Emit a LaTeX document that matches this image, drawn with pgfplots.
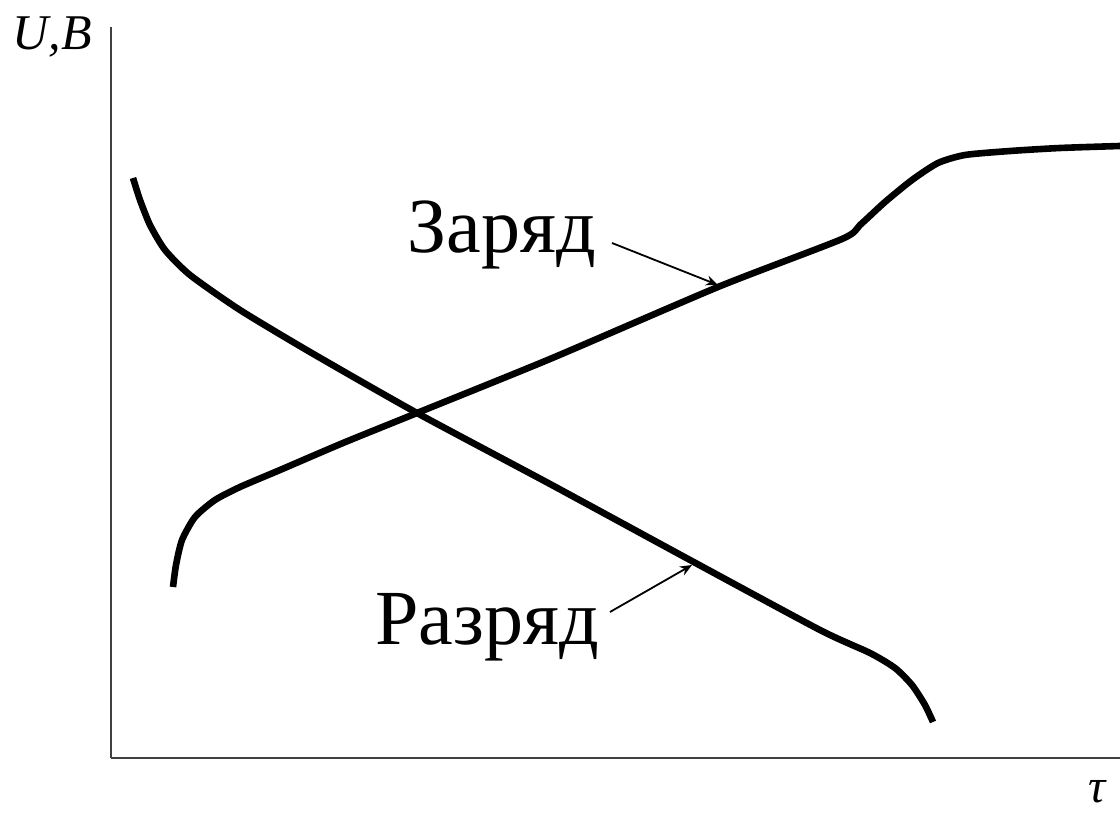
\documentclass[border=0pt]{standalone}
\usepackage{fontspec}
\setmainfont{Liberation Serif}
\usepackage{pgfplots}
\pgfplotsset{compat=1.18}
\usetikzlibrary{arrows.meta}
\begin{document}
\begin{tikzpicture}
\path[use as bounding box] (-55.5pt,-28pt) rectangle (504.5pt,379pt);
\begin{axis}[
  scale only axis,
  width=504.5pt, height=365.5pt,
  xmin=111, xmax=1120, ymin=56, ymax=787,
  axis x line=bottom, axis y line=left,
  axis line style={-, line width=1.3pt, color=black!75},
  xtick=\empty, ytick=\empty,
  clip=false,
]
% Charge (Заряд)
\addplot[smooth, tension=0.4, line width=3.3pt, black] coordinates {
(173,227) (176,249) (182,274) (195,297) (215,314) (240,327) (280,344)
(343,371) (417,401) (550,455) (718,527) (842,575) (860,589) (885,612)
(912,634) (938,651) (965,659) (1010,663) (1060,666) (1120,668)
};
% Discharge (Разряд)
\addplot[smooth, tension=0.4, line width=3.3pt, black] coordinates {
(133,636) (140,614) (150,589) (165,564) (190,539) (240,504) (310,462)
(417,401) (550,330) (690,254) (820,184) (870,161) (895,146) (912,129)
(925,109) (933,92)
};
\draw[line width=0.9pt, -{Stealth[length=6pt,width=5pt]}] (axis cs:612,571) -- (axis cs:718,529);
\draw[line width=0.9pt, -{Stealth[length=6pt,width=5pt]}] (axis cs:610,202) -- (axis cs:692,249);
\node[anchor=base, font=\fontsize{39}{44}\selectfont, inner sep=0pt] at (axis cs:502,561) {Заряд};
\node[anchor=base, font=\fontsize{39}{44}\selectfont, inner sep=0pt] at (axis cs:487,169) {Разряд};
\node[anchor=base west, font=\fontsize{25}{30}\selectfont, inner sep=0pt] at (axis cs:12,764) {\textit{U,B}};
\node[anchor=base, font=\fontsize{24}{28}\selectfont, inner sep=0pt] at (axis cs:1098,12) {\textit{τ}};
\end{axis}
\end{tikzpicture}
\end{document}
